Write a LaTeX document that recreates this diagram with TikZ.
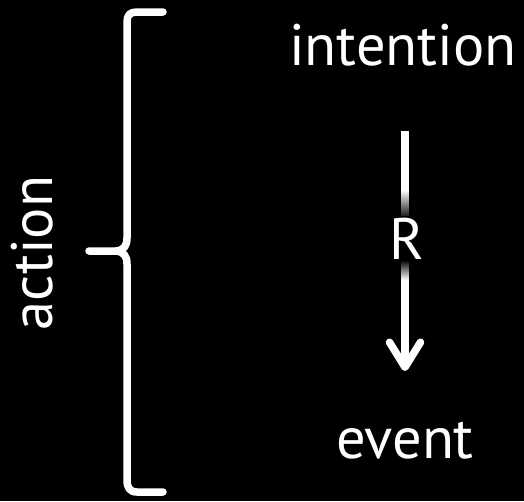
\documentclass[tikz,border=0pt]{standalone}
\usepackage{fontspec}
\setmainfont{PT Sans}
\usetikzlibrary{arrows.meta}
\begin{document}
\begin{tikzpicture}[x=1pt,y=-1pt,
  lbl/.style={text=white,font=\fontsize{58.5}{62}\selectfont,inner sep=0pt},
  stroke/.style={draw=white,line width=7.5pt,line cap=round,line join=round}]
% black canvas
\fill[black] (0,0) rectangle (524,501);
\useasboundingbox (0,0) rectangle (524,501);

% labels
\node[lbl,anchor=base] (intention) at (403,65) {intention};
\node[lbl,anchor=base] (event) at (405,458) {event};
\node[lbl,anchor=base,rotate=90] (action) at (52,253) {action};

% relation arrow
\coordinate (from) at (405,131);
\coordinate (to) at (405,371);
\draw[stroke,line cap=butt,-{Straight Barb[round,length=25pt,width=31pt]}] (from) -- (to);

% dark halo around the relation label
\shade[top color=white,bottom color=black] (401.25,190) rectangle (408.75,219);
\shade[top color=black,bottom color=white] (401.25,260) rectangle (408.75,280);
\node[lbl,anchor=base,fill=black,inner sep=1.5pt] (R) at (407,259) {R};

% brace grouping intention and event
\draw[stroke] (163,12) -- (137,12) .. controls (130,12) and (127,15) .. (127,22)
  -- (127,238) .. controls (127,246) and (124,250) .. (116,251) -- (89,251);
\draw[stroke] (116,251) .. controls (124,252) and (127,256) .. (127,264)
  -- (127,480) .. controls (127,488) and (130,492) .. (137,492) -- (163,492);
\end{tikzpicture}
\end{document}
